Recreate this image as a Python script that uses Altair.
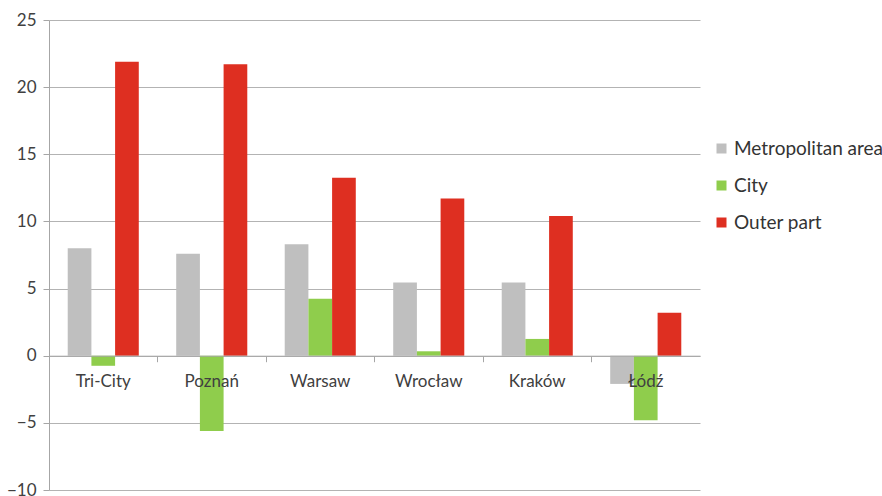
import altair as alt
import pandas as pd

cities = ["Tri-City", "Poznań", "Warsaw", "Wrocław", "Kraków", "Łódź"]
series = ["Metropolitan area", "City", "Outer part"]
metro = [8.0, 7.6, 8.3, 5.45, 5.45, -2.1]
city = [-0.75, -5.6, 4.25, 0.33, 1.25, -4.8]
outer = [21.9, 21.7, 13.25, 11.7, 10.4, 3.2]
colors = ["#bfbfbf", "#8fcd4c", "#de2f21"]

rows = []
for i, c in enumerate(cities):
    for s, vals in zip(series, [metro, city, outer]):
        rows.append({"city": c, "series": s, "value": vals[i]})
df = pd.DataFrame(rows)

W, H = 651, 470
font = "Lato"

chart = alt.Chart(df).mark_bar().encode(
    x=alt.X("city:N", sort=cities, title=None,
            scale=alt.Scale(paddingInner=0, paddingOuter=0),
            axis=alt.Axis(offset=-H * 10 / 35, bandPosition=0, labelAngle=0,
                          domainColor="#a6a6a6", tickColor="#a6a6a6",
                          tickSize=6, labelPadding=12, labelFontSize=17,
                          labelColor="#404040", labelFont=font, grid=False,
                          zindex=1)),
    xOffset=alt.XOffset("series:N", sort=series,
                        scale=alt.Scale(paddingInner=0, paddingOuter=0.79)),
    y=alt.Y("value:Q", title=None,
            scale=alt.Scale(domain=[-10, 25], nice=False, zero=False),
            axis=alt.Axis(values=[-10, -5, 0, 5, 10, 15, 20, 25], gridColor="#b3b3b3",
                          domainColor="#a6a6a6", tickColor="#a6a6a6", tickSize=6,
                          labelPadding=7, labelFontSize=17, labelColor="#404040",
                          labelFont=font)),
    color=alt.Color("series:N", sort=series, title=None,
                    scale=alt.Scale(domain=series, range=colors),
                    legend=alt.Legend(orient="none", legendX=663, legendY=119,
                                      symbolType="square", symbolSize=100,
                                      symbolStrokeWidth=0, labelFontSize=19,
                                      labelFont=font, labelColor="#333333",
                                      rowPadding=17, labelOffset=3,
                                      labelLimit=300)),
).properties(
    width=W, height=H,
    background="white",
    autosize=alt.AutoSizeParams(type="none"),
    padding={"left": 49, "top": 20, "right": 182, "bottom": 6},
).configure_view(strokeWidth=0, stroke="transparent")

chart.save("out.html", embed_options={"renderer": "svg", "actions": False})
